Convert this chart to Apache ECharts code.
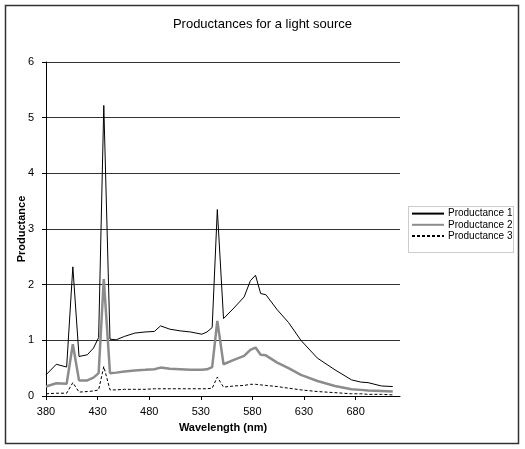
<!DOCTYPE html>
<html>
<head>
<meta charset="utf-8">
<title>Productances for a light source</title>
<script src="https://cdn.jsdelivr.net/npm/echarts@6/dist/echarts.min.js"></script>
<style>
    html, body { margin: 0; padding: 0; background: #fff; }
    #chart { width: 525px; height: 449px; }
</style>
</head>
<body>
<div id="chart"></div>
<script>
// wavelengths (nm) shared by all three series
var wavelengths = [380, 390, 400, 406, 412, 420, 426, 431, 436, 442, 448, 456, 466, 476, 485, 491, 500, 510, 520, 531,
    536, 541, 546, 552, 562, 572, 578, 583, 588, 593, 604, 615, 627, 643, 660, 676, 685, 692, 705, 716];

var productance1 = [0.38, 0.57, 0.52, 2.32, 0.71, 0.74, 0.86, 1.05, 5.22, 1.02, 1.01, 1.07, 1.13, 1.15, 1.16, 1.26, 1.20, 1.17, 1.15, 1.11,
    1.15, 1.23, 3.35, 1.39, 1.58, 1.78, 2.07, 2.17, 1.84, 1.82, 1.55, 1.32, 1.00, 0.68, 0.47, 0.29, 0.25, 0.24, 0.18, 0.17];

var productance2 = [0.17, 0.23, 0.22, 0.93, 0.28, 0.28, 0.33, 0.41, 2.10, 0.41, 0.42, 0.44, 0.46, 0.47, 0.48, 0.51, 0.49, 0.48, 0.47, 0.47,
    0.48, 0.52, 1.35, 0.57, 0.65, 0.72, 0.83, 0.87, 0.74, 0.73, 0.60, 0.50, 0.38, 0.27, 0.18, 0.12, 0.11, 0.10, 0.09, 0.08];

var productance3 = [0.04, 0.05, 0.05, 0.24, 0.07, 0.08, 0.09, 0.11, 0.53, 0.11, 0.11, 0.12, 0.12, 0.12, 0.13, 0.13, 0.13, 0.13, 0.13, 0.13,
    0.13, 0.14, 0.34, 0.16, 0.18, 0.19, 0.21, 0.21, 0.20, 0.19, 0.17, 0.14, 0.11, 0.08, 0.06, 0.04, 0.04, 0.03, 0.03, 0.02];

var seriesNames = ['Productance 1', 'Productance 2', 'Productance 3'];

function pairs(values) {
    return wavelengths.map(function (w, i) { return [w, values[i]]; });
}

var font = 'Liberation Sans';

var chart = echarts.init(document.getElementById('chart'), null, { renderer: 'canvas' });

var option = {
    animation: false,
    backgroundColor: '#fff',
    textStyle: { fontFamily: font },
    title: {
        text: 'Productances for a light source',
        left: 'center',
        top: 18,
        padding: 0,
        textStyle: { fontSize: 13, fontWeight: 'normal', color: '#000', fontFamily: font }
    },
    graphic: [
        {   // chart area border
            type: 'rect',
            shape: { x: 5.5, y: 5.5, width: 513, height: 438 },
            style: { fill: 'none', stroke: '#333', lineWidth: 1.5 },
            z: 100
        },
        {   // legend box
            type: 'rect',
            shape: { x: 408.5, y: 206.5, width: 105, height: 46 },
            style: { fill: 'none', stroke: '#999', lineWidth: 1, lineDash: [1, 1] },
            z: 100
        }
    ],
    legend: {
        orient: 'vertical',
        left: 411,
        top: 208,
        padding: 0,
        itemWidth: 32,
        itemHeight: 14,
        itemGap: 0,
        data: seriesNames,
        itemStyle: { opacity: 0 },
        textStyle: { fontSize: 10, color: '#000', fontFamily: font, padding: [0, 0, 0, -1] }
    },
    grid: {
        left: 46,
        top: 62,
        width: 354,
        height: 334
    },
    xAxis: {
        type: 'value',
        min: 380,
        max: 723,
        interval: 50,
        name: 'Wavelength (nm)',
        nameLocation: 'middle',
        nameGap: 26,
        nameMoveOverlap: false,
        nameTextStyle: { fontSize: 11, fontWeight: 'bold', color: '#000', fontFamily: font },
        axisLine: { show: true, lineStyle: { color: '#000', width: 1 } },
        axisTick: { show: true, inside: false, length: 4, lineStyle: { color: '#000' } },
        axisLabel: { fontSize: 11, color: '#000', margin: 10, showMaxLabel: false, fontFamily: font },
        splitLine: { show: false }
    },
    yAxis: {
        type: 'value',
        min: 0,
        max: 6,
        interval: 1,
        name: 'Productance',
        nameLocation: 'middle',
        nameRotate: 90,
        nameGap: 19,
        nameMoveOverlap: false,
        nameTextStyle: { fontSize: 11, fontWeight: 'bold', color: '#000', fontFamily: font },
        axisLine: { show: true, lineStyle: { color: '#000', width: 1 } },
        axisTick: { show: true, inside: false, length: 4, lineStyle: { color: '#000' } },
        axisLabel: { fontSize: 11, color: '#000', margin: 12, fontFamily: font },
        splitLine: { show: true, lineStyle: { color: '#333', width: 1 } }
    },
    series: [
        {
            name: seriesNames[0],
            type: 'line',
            symbol: 'none',
            data: pairs(productance1),
            lineStyle: { color: '#000', width: 1 },
            itemStyle: { color: '#000' },
            z: 4
        },
        {
            name: seriesNames[1],
            type: 'line',
            symbol: 'none',
            data: pairs(productance2),
            lineStyle: { color: '#8c8c8c', width: 2.5 },
            itemStyle: { color: '#8c8c8c' },
            z: 3
        },
        {
            name: seriesNames[2],
            type: 'line',
            symbol: 'none',
            data: pairs(productance3),
            lineStyle: { color: '#000', width: 1, type: [3, 2] },
            itemStyle: { color: '#000' },
            z: 2
        }
    ]
};

chart.setOption(option);
</script>
</body>
</html>
